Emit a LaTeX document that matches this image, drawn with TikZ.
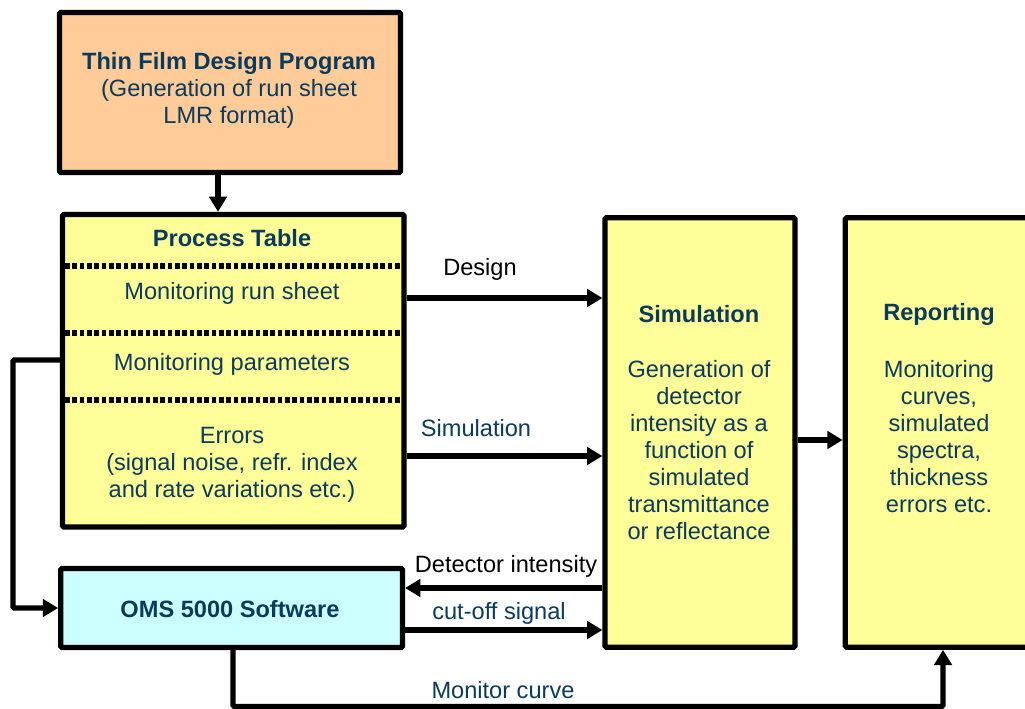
\documentclass[tikz,border=0pt]{standalone}
\usepackage{fontspec}
\setmainfont{Liberation Sans}
\usetikzlibrary{arrows.meta}
\definecolor{txt}{HTML}{0A3B5C}
\definecolor{peach}{HTML}{FFCC99}
\definecolor{lyellow}{HTML}{FFFF99}
\definecolor{lcyan}{HTML}{CCFFFF}
\tikzset{
  box/.style={draw=black, line width=3.9pt, rounded corners=1pt, inner sep=0pt},
  conn/.style={line width=3.9pt, -{Triangle[length=11.5pt,width=13pt]}},
  lab/.style={font=\fontsize{17.7}{20.25}\selectfont, text=txt, align=center, inner sep=0pt},
  blab/.style={lab, font=\fontsize{17.7}{20.25}\selectfont\bfseries},
  sep/.style={line width=4.2pt, dash pattern=on 3.6pt off 1.9pt}
}
\begin{document}
\begin{tikzpicture}[x=0.75pt,y=-0.75pt]
\useasboundingbox (0,0) rectangle (1025,709);
\clip (0,0) rectangle (1025,709);
% boxes
\node[box, fill=peach, minimum width=255.75pt, minimum height=120pt] (thin) at (230,92.5) {};
\node[box, fill=lyellow, minimum width=256.1pt, minimum height=234.4pt] (pt) at (233.25,370.75) {};
\node[box, fill=lyellow, minimum width=142.5pt, minimum height=322pt] (sim) at (700,432.5) {};
\node[box, fill=lyellow, minimum width=146.6pt, minimum height=322pt] (rep) at (943,432.5) {};
\node[box, fill=lcyan, minimum width=256.3pt, minimum height=59.25pt] (oms) at (231.6,608) {};
% thin film text
\node[lab] (thintxt) at (229,90.5) {\textbf{Thin Film Design Program}\\(Generation of run sheet\\LMR format)};
% process table
\node[blab] (pttitle) at (232,238) {Process Table};
\node[lab] (ptrun) at (232,293) {Monitoring run sheet};
\node[lab] (ptpar) at (232,364) {Monitoring parameters};
\node[lab] (pterr) at (232,464.5) {Errors\\(signal noise, refr. index\\and rate variations etc.)};
\coordinate (d1a) at (65,266); \coordinate (d1b) at (401,266);
\coordinate (d2a) at (65,333); \coordinate (d2b) at (401,333);
\coordinate (d3a) at (65,400); \coordinate (d3b) at (401,400);
\draw[sep] (d1a) -- (d1b);
\draw[sep] (d2a) -- (d2b);
\draw[sep] (d3a) -- (d3b);
% simulation
\node[blab] (simtitle) at (699,314) {Simulation};
\node[lab] (simtxt) at (699,450) {Generation of\\detector\\intensity as a\\function of\\simulated\\transmittance\\or reflectance};
% reporting
\node[blab] (reptitle) at (939,314) {Reporting};
\node[lab] (reptxt) at (939,436.5) {Monitoring\\curves,\\simulated\\spectra,\\thickness\\errors etc.};
% OMS
\node[blab] (omstxt) at (230,609) {OMS 5000 Software};
% connectors
\draw[conn] (thin.south -| 218,0) -- (pt.north -| 218,0);
\draw[conn] (pt.east |- 0,298) -- (sim.west |- 0,298);
\node[lab, text=black] (ldesign) at (480,269) {Design};
\draw[conn] (pt.east |- 0,456) -- (sim.west |- 0,456);
\node[lab] (lsim) at (476,428) {Simulation};
\draw[conn] (sim.east |- 0,440) -- (rep.west |- 0,440);
\draw[conn] (sim.west |- 0,588) -- (oms.east |- 0,588);
\node[lab, text=black] (ldet) at (506,566) {Detector intensity};
\draw[conn] (oms.east |- 0,630) -- (sim.west |- 0,630);
\node[lab] (lcut) at (499,613) {cut-off signal};
\coordinate (l1) at (13,360);
\coordinate (l2) at (13,608);
\draw[conn, rounded corners=1pt] (pt.west |- l1) -- (l1) -- (l2) -- (oms.west |- l2);
\coordinate (b1) at (233,706.5);
\coordinate (b2) at (943,706.5);
\draw[conn, rounded corners=1pt] (oms.south -| b1) -- (b1) -- (b2) -- (rep.south -| b2);
\node[lab] (lmon) at (503,690) {Monitor curve};
\end{tikzpicture}
\end{document}
